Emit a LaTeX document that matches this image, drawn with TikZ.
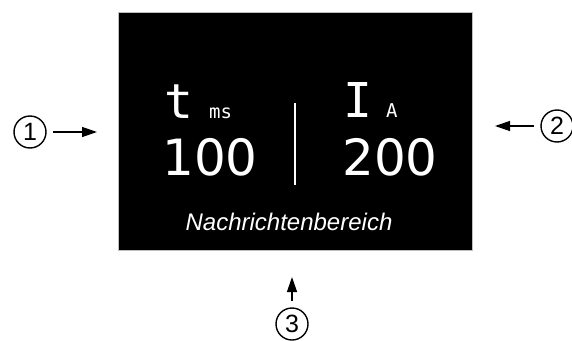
\documentclass[tikz,border=0pt]{standalone}
\usepackage{fontspec}
\setmainfont{Liberation Sans}
\newfontfamily\anzeigemono{DejaVu Sans Mono}
\newfontfamily\anzeigesans{DejaVu Sans}
\usetikzlibrary{positioning,arrows.meta}

\begin{document}
\begin{tikzpicture}[x=1pt, y=-1pt,
    marke/.style={draw, circle, line width=1.4pt, minimum size=32pt, inner sep=0pt,
                  font=\fontsize{25}{25}\selectfont},
    pfeil/.style={-{Triangle[length=15pt, width=10pt]}, line width=1.3pt, shorten <=6pt},
    groesse/.style={text=white, inner sep=0pt, anchor=base west,
                    font=\anzeigemono\fontsize{48}{48}\selectfont},
    einheit/.style={text=white, inner sep=0pt, anchor=base west,
                    font=\anzeigemono\fontsize{19}{19}\selectfont},
    wert/.style={text=white, inner sep=0pt, anchor=base,
                 font=\anzeigesans\fontsize{50}{50}\selectfont}]
  \useasboundingbox (0,0) rectangle (572,340);
  % Anzeige
  \node[draw=black!25, fill=black, line width=1pt, minimum width=354pt,
        minimum height=238pt, inner sep=0pt] (anzeige) at (295,131) {};
  \node[groesse] (zeit) at (164,118) {t};
  \node[einheit] (ms) at (209,118) {ms};
  \node[wert] (wert1) at (210,175) {100};
  \node[groesse] (strom) at (343,117) {I};
  \node[einheit] (ampere) at (386,117) {A};
  \node[wert] (wert2) at (390,175) {200};
  \draw[white, line width=2pt] (295,103) -- (295,185);
  \node[text=white, inner sep=0pt, anchor=base,
        font=\itshape\fontsize{24}{24}\selectfont] (nachricht) at (289,230) {Nachrichtenbereich};
  % Markierungen
  \node[marke] (m1) at (30,132) {1};
  \node[marke] (m2) at (557,126) {2};
  \node[marke] (m3) at (292,324) {3};
  \coordinate (z1) at (97,132);
  \coordinate (z2) at (495,126);
  \coordinate (z3) at (292,277);
  \draw[pfeil] (m1) -- (z1);
  \draw[pfeil] (m2) -- (z2);
  \draw[pfeil] (m3) -- (z3);
\end{tikzpicture}
\end{document}
